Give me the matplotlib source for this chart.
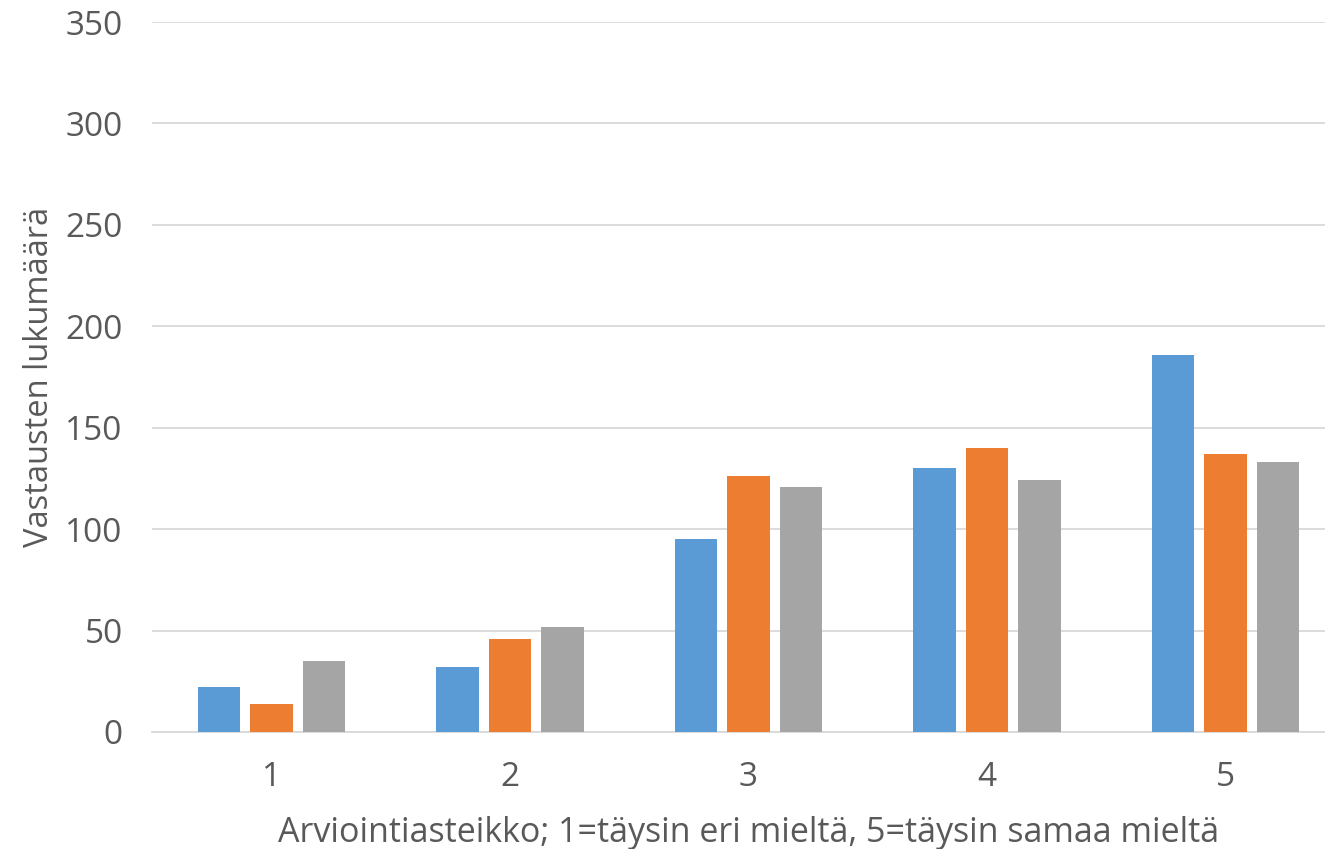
import matplotlib
matplotlib.use("Agg")
import matplotlib.pyplot as plt
import numpy as np

categories = ["1", "2", "3", "4", "5"]
series_a = [22, 32, 95, 130, 186]
series_b = [14, 46, 126, 140, 137]
series_c = [35, 52, 121, 124, 133]
yticks = [0, 50, 100, 150, 200, 250, 300, 350]
colors = ["#5B9BD5", "#ED7D31", "#A5A5A5"]

plt.rcParams['font.family'] = ['Open Sans', 'DejaVu Sans']

fig = plt.figure(figsize=(13.25, 8.49), dpi=100)
ax = fig.add_axes([152/1325, 117/849, 1193/1325, 710/849])

x = np.arange(len(categories))
w = 0.178
off = 0.22
for i, (vals, c) in enumerate(zip([series_a, series_b, series_c], colors)):
    ax.bar(x + (i - 1) * off, vals, width=w, color=c, zorder=3, linewidth=0)

ax.set_xlim(-0.5, 4.5)
ax.set_ylim(0, 350)
ax.set_yticks(yticks)
ax.set_xticks(x)
ax.set_xticklabels(categories)
ax.yaxis.grid(True, color="#D9D9D9", linewidth=1.3, zorder=0)
ax.set_axisbelow(True)
for s in ["top", "right", "left"]:
    ax.spines[s].set_visible(False)
ax.spines["bottom"].set_color("#D9D9D9")
ax.spines["bottom"].set_linewidth(1.3)
ax.tick_params(axis="both", length=0, labelsize=24, labelcolor="#595959")
ax.tick_params(axis="y", pad=21)
ax.tick_params(axis="x", pad=21)
ax.set_ylabel("Vastausten lukumäärä", fontsize=23.5, color="#595959", labelpad=7)
ax.set_xlabel("Arviointiasteikko; 1=täysin eri mieltä, 5=täysin samaa mieltä",
              fontsize=24.5, color="#595959", labelpad=16)

fig.savefig("out.png", dpi=100)
